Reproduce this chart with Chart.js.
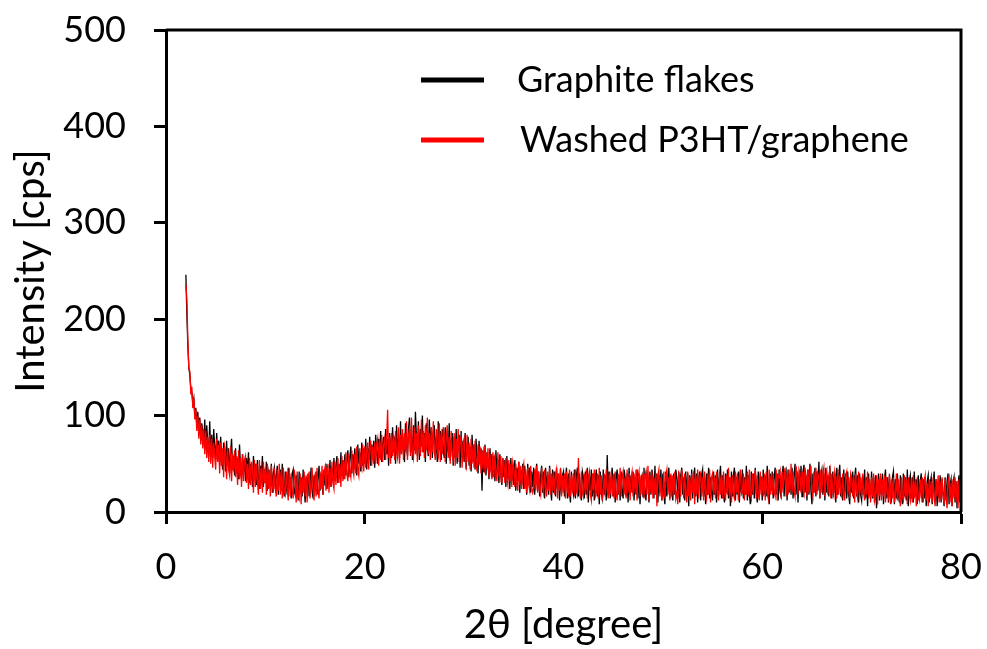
<!DOCTYPE html>
<html>
<head>
<meta charset="utf-8">
<script src="https://cdn.jsdelivr.net/npm/chart.js@4.4.0/dist/chart.umd.min.js"></script>
<style>
  html, body { margin: 0; padding: 0; background: #fff; }
  canvas { display: block; }
</style>
</head>
<body>
<canvas id="xrd" width="987" height="649"></canvas>
<script>
// 2θ range of the scan, sampled evenly (0.1° steps)
const scanStart = 2;
const scanEnd = 80;

// Graphite flakes (black), one row per degree
const graphite = [
  246, 205, 172, 150, 142, 128, 124, 112, 118, 100,
  108, 90, 104, 82, 98, 76, 92, 84, 70, 96,
  66, 90, 72, 60, 94, 62, 80, 56, 86, 68,
  54, 82, 60, 74, 48, 78, 56, 44, 72, 62,
  42, 74, 50, 66, 40, 62, 76, 44, 58, 38,
  66, 40, 56, 34, 70, 46, 36, 60, 42, 54,
  32, 56, 40, 62, 30, 50, 42, 26, 58, 36,
  50, 28, 54, 34, 24, 48, 36, 58, 26, 44,
  30, 52, 22, 42, 36, 24, 50, 20, 40, 46,
  24, 38, 48, 18, 36, 44, 22, 50, 28, 16,
  42, 28, 18, 46, 24, 36, 14, 40, 44, 22,
  18, 38, 28, 12, 42, 22, 36, 16, 44, 26,
  10, 36, 20, 40, 16, 30, 46, 22, 14, 38,
  24, 42, 18, 34, 48, 22, 40, 28, 18, 44,
  28, 50, 24, 40, 30, 54, 26, 46, 32, 56,
  32, 48, 58, 30, 50, 36, 62, 38, 54, 34,
  60, 38, 54, 64, 36, 56, 68, 40, 60, 44,
  66, 46, 38, 70, 50, 62, 42, 72, 48, 66,
  50, 76, 44, 66, 54, 78, 48, 70, 56, 74,
  46, 80, 62, 50, 76, 56, 84, 52, 70, 78,
  54, 86, 60, 76, 48, 82, 68, 56, 88, 62,
  78, 50, 90, 64, 76, 56, 94, 60, 80, 66,
  52, 92, 70, 58, 86, 98, 62, 80, 54, 90,
  64, 104, 78, 58, 94, 54, 86, 68, 100, 62,
  82, 52, 92, 68, 58, 96, 64, 88, 56, 80,
  90, 58, 78, 52, 94, 64, 84, 54, 86, 66,
  56, 88, 50, 80, 62, 92, 54, 74, 82, 48,
  78, 56, 86, 50, 72, 80, 46, 84, 56, 74,
  52, 82, 44, 70, 78, 48, 68, 42, 80, 52,
  70, 44, 76, 52, 40, 74, 50, 66, 22, 64,
  42, 70, 38, 62, 50, 34, 66, 42, 60, 36,
  58, 32, 64, 40, 54, 30, 60, 38, 28, 56,
  36, 54, 26, 58, 34, 50, 24, 56, 32, 48,
  28, 54, 22, 46, 32, 52, 20, 44, 28, 50,
  24, 48, 32, 18, 50, 28, 46, 20, 42, 26,
  46, 18, 40, 50, 22, 42, 16, 38, 48, 20,
  42, 14, 46, 24, 38, 18, 48, 26, 12, 44,
  20, 42, 16, 46, 24, 40, 12, 44, 18, 38,
  42, 16, 34, 46, 14, 40, 22, 10, 42, 24,
  18, 44, 14, 38, 46, 16, 40, 22, 12, 42,
  36, 14, 42, 18, 46, 10, 38, 22, 44, 16,
  40, 12, 34, 44, 16, 38, 8, 42, 20, 14,
  44, 18, 38, 12, 59, 20, 42, 14, 36, 46,
  16, 40, 10, 36, 44, 18, 38, 12, 42, 22,
  14, 44, 36, 16, 40, 10, 46, 18, 38, 20,
  42, 12, 36, 18, 44, 14, 40, 8, 34, 38,
  16, 46, 20, 12, 40, 36, 10, 42, 18, 44,
  36, 14, 48, 18, 40, 10, 38, 20, 44, 12,
  40, 18, 8, 42, 16, 36, 46, 14, 38, 20,
  12, 40, 18, 44, 36, 14, 42, 10, 38, 46,
  18, 36, 12, 42, 16, 40, 6, 38, 20, 44,
  14, 36, 46, 16, 40, 10, 34, 42, 12, 38,
  44, 16, 36, 8, 40, 18, 46, 14, 36, 20,
  12, 42, 18, 38, 10, 44, 16, 36, 48, 14,
  38, 18, 10, 40, 20, 44, 14, 36, 6, 42,
  16, 38, 46, 12, 36, 18, 42, 10, 40, 20,
  44, 14, 36, 18, 48, 12, 38, 20, 8, 42,
  18, 40, 14, 46, 20, 10, 42, 16, 38, 36,
  12, 44, 18, 38, 16, 48, 20, 8, 40, 22,
  42, 14, 36, 46, 18, 40, 12, 44, 20, 16,
  38, 48, 16, 36, 42, 12, 44, 20, 40, 18,
  46, 14, 38, 50, 18, 42, 10, 40, 22, 48,
  16, 42, 49, 20, 38, 12, 44, 18, 50, 22,
  8, 40, 20, 46, 16, 42, 22, 52, 14, 38,
  44, 18, 40, 12, 46, 20, 38, 16, 48, 22,
  14, 42, 20, 40, 10, 46, 18, 38, 49, 16,
  36, 12, 44, 20, 40, 14, 42, 18, 8, 38,
  20, 42, 14, 36, 46, 16, 38, 10, 40, 18,
  12, 38, 18, 44, 14, 36, 6, 40, 20, 16,
  42, 14, 36, 10, 38, 4, 20, 40, 12, 36,
  18, 40, 8, 34, 44, 14, 36, 10, 38, 16,
  12, 36, 42, 8, 34, 14, 40, 18, 10, 38,
  20, 8, 40, 16, 36, 12, 44, 6, 32, 38,
  14, 36, 10, 42, 16, 34, 8, 38, 12, 32,
  40, 10, 34, 14, 36, 6, 32, 38, 10, 30,
  36, 8, 30, 42, 12, 34, 6, 32, 14, 38,
  10, 34, 18, 6, 36, 12, 32, 40, 8, 28,
  34, 6, 30, 36, 10, 32, 4, 28, 38, 10,
  30
];

// Washed P3HT/graphene (red)
const p3htGraphene = [
  236, 220, 178, 148, 146, 122, 130, 108, 118, 96,
  106, 84, 100, 76, 96, 70, 90, 66, 86, 60,
  84, 56, 78, 52, 80, 50, 76, 46, 72, 58,
  44, 76, 52, 70, 40, 72, 48, 66, 36, 68,
  62, 34, 66, 44, 38, 68, 32, 60, 42, 64,
  36, 58, 28, 64, 34, 56, 26, 60, 32, 54,
  58, 30, 50, 24, 56, 28, 52, 44, 20, 54,
  26, 50, 32, 18, 54, 24, 46, 20, 52, 30,
  46, 18, 50, 24, 44, 16, 48, 28, 20, 46,
  24, 16, 44, 22, 50, 18, 42, 14, 46, 22,
  18, 42, 24, 12, 46, 16, 40, 22, 14, 44,
  36, 10, 42, 18, 14, 40, 8, 36, 20, 42,
  16, 38, 10, 34, 42, 14, 30, 46, 24, 12,
  40, 16, 46, 22, 14, 42, 24, 48, 18, 40,
  46, 22, 42, 50, 20, 46, 26, 52, 30, 24,
  52, 28, 48, 56, 30, 50, 26, 58, 32, 54,
  34, 62, 40, 32, 60, 42, 36, 64, 44, 38,
  60, 40, 68, 44, 38, 66, 48, 44, 70, 42,
  68, 46, 64, 72, 44, 66, 74, 48, 68, 50,
  72, 50, 70, 76, 48, 74, 54, 80, 52, 70,
  76, 54, 74, 106, 56, 78, 50, 82, 58, 80,
  54, 84, 62, 56, 88, 50, 80, 60, 86, 54,
  82, 62, 94, 54, 80, 86, 58, 98, 62, 56,
  88, 60, 82, 52, 90, 64, 58, 96, 62, 84,
  56, 90, 64, 98, 60, 82, 54, 88, 62, 94,
  62, 54, 86, 64, 58, 92, 52, 82, 60, 88,
  80, 52, 76, 90, 56, 78, 50, 84, 58, 54,
  82, 48, 76, 56, 86, 52, 74, 78, 46, 72,
  76, 54, 48, 80, 52, 72, 44, 76, 50, 70,
  46, 74, 52, 42, 70, 48, 68, 40, 64, 44,
  68, 40, 62, 44, 66, 36, 60, 42, 34, 62,
  36, 60, 40, 32, 62, 38, 34, 58, 30, 54,
  52, 30, 56, 34, 28, 54, 32, 50, 26, 52,
  46, 26, 50, 30, 22, 52, 28, 48, 24, 44,
  50, 24, 44, 20, 46, 28, 22, 48, 26, 20,
  24, 44, 22, 48, 20, 42, 24, 18, 46, 26,
  20, 44, 24, 16, 42, 22, 46, 18, 40, 22,
  42, 18, 38, 44, 14, 40, 22, 46, 16, 38,
  20, 40, 14, 42, 22, 18, 44, 16, 38, 20,
  40, 16, 44, 22, 18, 56, 24, 14, 42, 20,
  16, 40, 20, 44, 14, 36, 42, 18, 12, 40,
  22, 44, 16, 20, 40, 14, 46, 18, 38, 12,
  20, 40, 16, 44, 22, 14, 40, 18, 42, 16,
  38, 14, 42, 20, 12, 40, 18, 46, 16, 36,
  42, 18, 36, 14, 44, 20, 40, 12, 36, 42,
  16, 40, 20, 44, 12, 36, 42, 16, 38, 18,
  40, 14, 36, 42, 18, 48, 12, 38, 20, 42,
  14, 36, 18, 40, 6, 38, 44, 16, 36, 12,
  20, 42, 14, 38, 44, 18, 36, 12, 40, 16,
  38, 18, 42, 14, 20, 8, 40, 36, 16, 44,
  36, 14, 40, 20, 10, 42, 16, 36, 12, 40,
  20, 42, 8, 38, 18, 44, 14, 36, 40, 16,
  36, 12, 42, 20, 14, 40, 18, 44, 10, 36,
  40, 18, 36, 14, 42, 20, 12, 40, 18, 38,
  14, 42, 20, 12, 38, 18, 46, 16, 36, 10,
  38, 18, 14, 42, 20, 40, 12, 36, 44, 18,
  20, 40, 12, 36, 18, 42, 16, 44, 20, 14,
  40, 18, 36, 44, 14, 38, 20, 12, 42, 18,
  36, 16, 40, 12, 42, 20, 14, 44, 18, 38,
  18, 40, 20, 16, 44, 12, 38, 36, 42, 14,
  42, 20, 38, 46, 16, 40, 18, 44, 22, 50,
  20, 42, 22, 16, 48, 38, 18, 44, 40, 20,
  42, 22, 18, 46, 38, 16, 44, 20, 40, 48,
  22, 16, 42, 20, 46, 18, 40, 36, 14, 44,
  20, 40, 46, 16, 36, 42, 18, 38, 44, 14,
  40, 20, 16, 42, 36, 14, 44, 18, 38, 20,
  16, 40, 20, 12, 38, 42, 18, 36, 14, 40,
  36, 16, 38, 10, 40, 20, 14, 42, 18, 36,
  16, 40, 20, 12, 36, 18, 42, 14, 34, 10,
  36, 16, 40, 12, 18, 38, 8, 34, 16, 40,
  12, 34, 16, 38, 10, 36, 18, 14, 40, 8,
  34, 14, 36, 10, 18, 40, 12, 34, 16, 6,
  36, 16, 12, 38, 14, 34, 8, 36, 18, 12,
  34, 10, 38, 14, 32, 6, 36, 16, 12, 34,
  14, 36, 10, 32, 38, 12, 30, 6, 34, 14,
  32, 10, 36, 14, 6, 34, 16, 38, 10, 32,
  12, 36, 16, 8, 34, 14, 4, 32, 36, 10,
  30, 6, 34, 14, 36, 10, 32, 4, 34, 14,
  26
];

const xTicks = [0, 20, 40, 60, 80];
const yTicks = [0, 100, 200, 300, 400, 500];
const seriesNames = ['Graphite flakes', 'Washed P3HT/graphene'];

const toPoints = values => values.map((v, i) => ({
  x: scanStart + i * (scanEnd - scanStart) / (values.length - 1),
  y: v
}));

const fontFamily = 'Lato, "Open Sans", sans-serif';

// box around the plot and the legend inside it
const framePlugin = {
  id: 'frame',
  afterDraw(chart) {
    const { ctx, chartArea: a } = chart;
    ctx.save();
    ctx.strokeStyle = '#000';
    ctx.lineWidth = 3;
    ctx.beginPath();
    ctx.moveTo(a.left, a.top);
    ctx.lineTo(a.right, a.top);
    ctx.lineTo(a.right, a.bottom);
    ctx.stroke();

    const items = [
      { text: seriesNames[0], color: '#000000', y: 80, textX: 517 },
      { text: seriesNames[1], color: '#ff0000', y: 140, textX: 520 }
    ];
    ctx.font = '36px ' + fontFamily;
    ctx.textBaseline = 'middle';
    ctx.fillStyle = '#000';
    items.forEach(it => {
      ctx.strokeStyle = it.color;
      ctx.lineWidth = 5;
      ctx.beginPath();
      ctx.moveTo(421, it.y);
      ctx.lineTo(484, it.y);
      ctx.stroke();
      ctx.fillText(it.text, it.textX, it.y);
    });
    ctx.restore();
  }
};

new Chart(document.getElementById('xrd'), {
  type: 'line',
  data: {
    datasets: [
      {
        label: seriesNames[0],
        data: toPoints(graphite),
        borderColor: '#000000',
        borderWidth: 1.3,
        pointRadius: 0,
        tension: 0,
        order: 2
      },
      {
        label: seriesNames[1],
        data: toPoints(p3htGraphene),
        borderColor: '#ff0000',
        borderWidth: 1.3,
        pointRadius: 0,
        tension: 0,
        order: 1
      }
    ]
  },
  options: {
    responsive: false,
    animation: false,
    layout: { padding: { top: 30, right: 26, left: 0, bottom: 0 } },
    plugins: {
      legend: { display: false },
      tooltip: { enabled: false }
    },
    scales: {
      x: {
        type: 'linear',
        min: 0,
        max: 80,
        afterFit: s => { s.height = 137; s.paddingLeft = 0; s.paddingRight = 0; },
        afterBuildTicks: s => { s.ticks = xTicks.map(v => ({ value: v })); },
        border: { display: true, color: '#000', width: 3 },
        grid: { drawOnChartArea: false, drawTicks: true, tickLength: 12, tickWidth: 3, tickColor: '#000' },
        ticks: { color: '#000', padding: 22, maxRotation: 0, font: { family: fontFamily, size: 36 } },
        title: {
          display: true,
          text: '2θ [degree]',
          color: '#000',
          padding: 0,
          font: { family: fontFamily, size: 40 }
        }
      },
      y: {
        min: 0,
        max: 500,
        afterFit: s => { s.width = 166; s.paddingTop = 0; s.paddingBottom = 0; },
        afterBuildTicks: s => { s.ticks = yTicks.map(v => ({ value: v })); },
        border: { display: true, color: '#000', width: 3 },
        grid: { drawOnChartArea: false, drawTicks: true, tickLength: 12, tickWidth: 3, tickColor: '#000' },
        ticks: { color: '#000', padding: 28, font: { family: fontFamily, size: 36 } },
        title: {
          display: true,
          text: 'Intensity [cps]',
          color: '#000',
          padding: 7,
          font: { family: fontFamily, size: 40 }
        }
      }
    }
  },
  plugins: [framePlugin]
});
</script>
</body>
</html>
